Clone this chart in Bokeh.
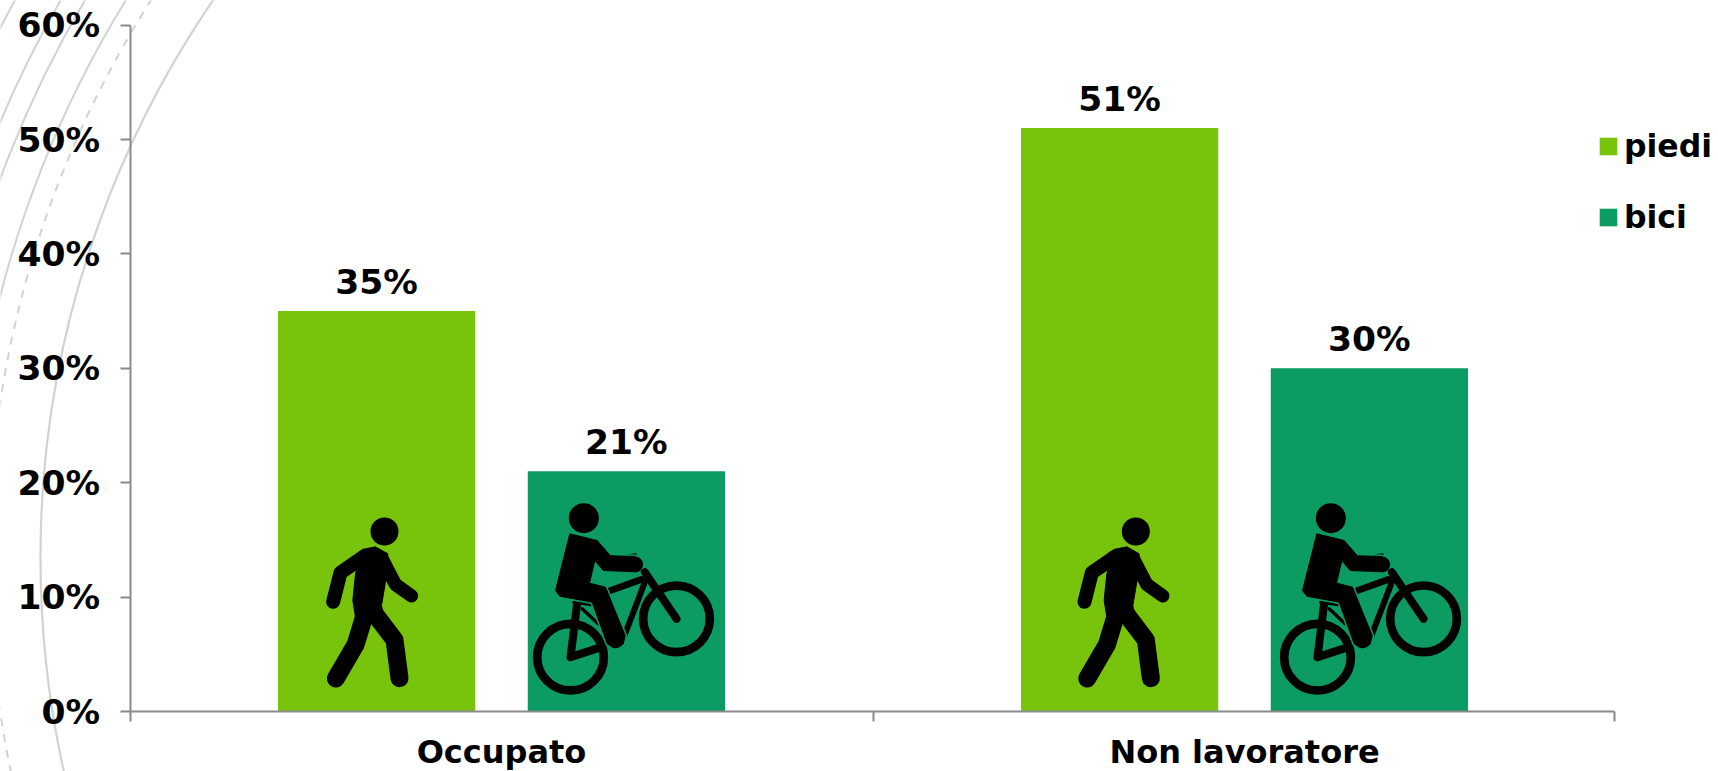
from bokeh.plotting import figure
from bokeh.models import (ColumnDataSource, Range1d, LinearAxis, FixedTicker,
                          Legend, LegendItem, PrintfTickFormatter)
from bokeh.core.properties import value
from bokeh.embed import file_html
from bokeh.resources import INLINE

categories = ["Occupato", "Non lavoratore"]
piedi = [35, 51]
bici = [21, 30]
y_ticks = [0, 10, 20, 30, 40, 50, 60]
series_names = ["piedi", "bici"]
PIEDI_COLOR = "#78C40C"
BICI_COLOR = "#0C9B62"
FONT = "DejaVu Sans"
AXIS_COLOR = "#8A8A8A"

W, H = 1718, 771
CAT_PX = 743.0
C0_PX = 501.0
Y0_PX = 711.0
PCT_PX = 11.44

def dx(px):
    return (px - C0_PX) / CAT_PX

def dy(py):
    return (Y0_PX - py) / PCT_PX

p = figure(width=W, height=H, output_backend="svg", toolbar_location=None,
           x_range=Range1d(dx(0), dx(W)), y_range=Range1d(dy(H), dy(0)),
           x_axis_type=None, y_axis_type=None, min_border=0,
           outline_line_color=None, background_fill_color="white")
p.grid.visible = False

# background decoration: big concentric rings, only their left edge is on the page
CX, CY = 1025, 557
for r, dash, lw in [(985, "solid", 2.2), (1037, "8 8", 2), (1058, "solid", 2),
                    (1093, "solid", 2), (1114, "solid", 2), (1154, "solid", 2)]:
    p.scatter([dx(CX)], [dy(CY)], size=2 * r, marker="circle", fill_color=None,
              line_color="#D2D2D2", line_width=lw, line_dash=dash, level="underlay")

# bars
BAR_W = 197.3 / CAT_PX
OFFSET = 124.9 / CAT_PX
xs = list(range(len(categories)))
src = ColumnDataSource(dict(x=xs, piedi=piedi, bici=bici,
                            xp=[x - OFFSET for x in xs], xb=[x + OFFSET for x in xs],
                            lp=[f"{v}%" for v in piedi], lb=[f"{v}%" for v in bici]))
r_p = p.vbar(x="xp", top="piedi", bottom=0, width=BAR_W, source=src,
             fill_color=PIEDI_COLOR, line_color=None)
r_b = p.vbar(x="xb", top="bici", bottom=0, width=BAR_W, source=src,
             fill_color=BICI_COLOR, line_color=None)
for xcol, ycol, tcol in [("xp", "piedi", "lp"), ("xb", "bici", "lb")]:
    p.text(x=xcol, y=ycol, text=tcol, source=src, text_align="center",
           text_baseline="alphabetic", y_offset=-29, text_color="black",
           text_font=value(FONT), text_font_style="bold", text_font_size="34.5px")

# icons (shape outlines)
def to_xy(pts, ox, oy=480):
    return [dx(ox + a / 3) for a, b in pts], [dy(oy + b / 3) for a, b in pts]

def stroke(pts, ox, w):
    xx, yy = to_xy(pts, ox)
    p.line(xx, yy, line_color="black", line_width=w / 3, line_cap="round", line_join="round")

def dot(c, r, ox):
    xx, yy = to_xy([c], ox)
    p.scatter(xx, yy, size=2 * r / 3, marker="circle", fill_color="black", line_color=None)

def ring(c, r, w, ox):
    xx, yy = to_xy([c], ox)
    p.scatter(xx, yy, size=2 * r / 3, marker="circle", fill_color=None,
              line_color="black", line_width=w / 3)

def walker(ox):
    dot((252, 153), 42, ox)
    stroke([(190, 228), (120, 277), (98, 364)], ox, 42)
    stroke([(245, 235), (285, 312), (333, 346)], ox, 40)
    xx, yy = to_xy([(165, 280), (185, 207), (225, 199), (262, 220), (257, 292), (243, 375),
                    (250, 410), (165, 410), (157, 360)], ox)
    p.patch(xx, yy, fill_color="black", line_color="black", line_width=1)
    stroke([(195, 395), (165, 493), (106, 594)], ox, 54)
    stroke([(215, 390), (282, 478), (297, 593)], ox, 54)

def cyclist(ox, bg):
    ring((810, 530), 100, 26, ox)
    ring((1128, 415), 100, 26, ox)
    stroke([(1128, 415), (1033, 275)], ox, 24)
    stroke([(925, 332), (1022, 297)], ox, 20)
    stroke([(1033, 305), (972, 465)], ox, 18)
    stroke([(830, 368), (810, 530), (893, 503)], ox, 24)
    stroke([(845, 385), (893, 430)], ox, 10)
    stroke([(820, 365), (872, 372)], ox, 10)
    stroke([(985, 225), (1005, 222)], ox, 8)
    dot((850, 113), 45, ox)
    outline = [(808, 160), (890, 180), (930, 226), (1005, 228), (1027, 250), (1007, 274),
               (908, 270), (883, 240), (867, 308), (915, 320), (974, 465), (968, 490),
               (945, 502), (920, 490), (875, 365), (778, 347), (765, 330)]
    xx, yy = to_xy(outline, ox)
    p.patch(xx, yy, fill_color=None, line_color=bg, line_width=4, line_join="round")
    p.patch(xx, yy, fill_color="black", line_color="black", line_width=1, line_join="round")
    dot((1005, 252), 23, ox)
    dot((945, 476), 27, ox)

walker(300)
walker(300 + 751.33)
cyclist(300, BICI_COLOR)
cyclist(300 + 747, BICI_COLOR)

# axes
X_END = dx(1614)
y_ax = LinearAxis(fixed_location=-0.5, bounds=(0, 60), ticker=FixedTicker(ticks=y_ticks),
                  formatter=PrintfTickFormatter(format="%d%%"),
                  axis_line_color=AXIS_COLOR, axis_line_width=2,
                  major_tick_line_color=AXIS_COLOR, major_tick_line_width=2,
                  major_tick_in=0, major_tick_out=10, minor_tick_line_color=None,
                  major_label_standoff=20, major_label_text_color="black",
                  major_label_text_font=FONT, major_label_text_font_style="bold",
                  major_label_text_font_size="34.5px")
p.add_layout(y_ax, "left")

x_ax = LinearAxis(fixed_location=0, bounds=(-0.5, X_END), ticker=FixedTicker(ticks=[-0.5, 0.5, X_END]),
                  axis_line_color=AXIS_COLOR, axis_line_width=2,
                  major_tick_line_color=AXIS_COLOR, major_tick_line_width=2,
                  major_tick_in=0, major_tick_out=10, minor_tick_line_color=None,
                  major_label_text_color=None, major_label_text_font_size="1px")
p.add_layout(x_ax, "below")

x_lab = LinearAxis(fixed_location=0, ticker=FixedTicker(ticks=xs),
                   major_label_overrides={i: c for i, c in enumerate(categories)},
                   axis_line_color=None, major_tick_line_color=None, minor_tick_line_color=None,
                   major_tick_in=0, major_tick_out=0, major_label_standoff=21,
                   major_label_text_color="black", major_label_text_font=FONT,
                   major_label_text_font_style="bold", major_label_text_font_size="32px")
p.add_layout(x_lab, "below")

# legend
legend = Legend(items=[LegendItem(label=series_names[0], renderers=[r_p]),
                       LegendItem(label=series_names[1], renderers=[r_b])],
                location=(1597, 771 - 235), orientation="vertical",
                glyph_width=22, glyph_height=22, label_standoff=5, spacing=35,
                padding=0, margin=0, border_line_color=None, background_fill_alpha=0,
                label_text_font=FONT, label_text_font_style="bold",
                label_text_font_size="31.5px", label_text_color="black")
p.add_layout(legend, "center")

open("out.html", "w").write(file_html(p, INLINE))
